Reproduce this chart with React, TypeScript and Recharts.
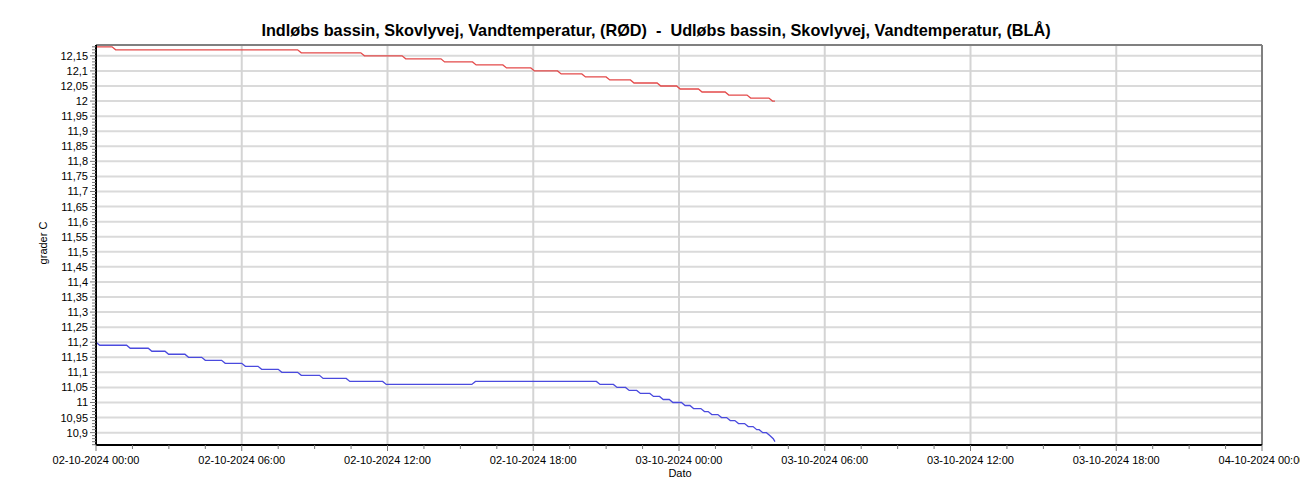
import React from 'react';
import { LineChart, Line, XAxis, YAxis, ReferenceLine } from 'recharts';

// Hours since 02-10-2024 00:00
const xMajorLabels = [
  '02-10-2024 00:00', '02-10-2024 06:00', '02-10-2024 12:00', '02-10-2024 18:00',
  '03-10-2024 00:00', '03-10-2024 06:00', '03-10-2024 12:00', '03-10-2024 18:00',
  '04-10-2024 00:00',
];
const xMajorHours = [0, 6, 12, 18, 24, 30, 36, 42, 48];
const yMajorTicks = [
  10.9, 10.95, 11, 11.05, 11.1, 11.15, 11.2, 11.25, 11.3, 11.35, 11.4, 11.45, 11.5,
  11.55, 11.6, 11.65, 11.7, 11.75, 11.8, 11.85, 11.9, 11.95, 12, 12.05, 12.1, 12.15,
];
const Y_MIN = 10.859;
const Y_MAX = 12.186;

// Red series (Indløbs bassin): levels and the hour each level ends
const redLevels = [12.18, 12.17, 12.16, 12.15, 12.14, 12.13, 12.12, 12.11, 12.1, 12.09, 12.08, 12.07, 12.06, 12.05, 12.04, 12.03, 12.02, 12.01, 12.0];
const redEnds = [0.66, 8.3, 10.9, 12.6, 14.2, 15.5, 16.75, 17.9, 19.0, 20.0, 21.0, 22.0, 23.1, 23.9, 24.8, 25.9, 26.8, 27.7, 27.95];

// Blue series (Udløbs bassin)
const blueLevels = [11.2, 11.19, 11.18, 11.17, 11.16, 11.15, 11.14, 11.13, 11.12, 11.11, 11.1, 11.09, 11.08, 11.07, 11.06, 11.07, 11.06, 11.05, 11.04, 11.03, 11.02, 11.01, 11.0, 10.99, 10.98, 10.97, 10.96, 10.95, 10.94, 10.93, 10.92, 10.91, 10.9, 10.89, 10.88, 10.87];
const blueEnds = [0.0, 1.26, 2.15, 2.84, 3.66, 4.35, 5.17, 6.0, 6.67, 7.5, 8.3, 9.2, 10.3, 11.8, 15.47, 20.6, 21.3, 21.8, 22.26, 22.8, 23.2, 23.6, 24.1, 24.45, 24.9, 25.2, 25.6, 25.96, 26.3, 26.7, 27.05, 27.3, 27.6, 27.75, 27.88, 27.95];

const STEP = 0.15;
function buildSteps(levels: number[], ends: number[]) {
  const pts: { t: number; v: number }[] = [];
  let start = 0;
  levels.forEach((v, i) => {
    const s = i === 0 ? 0 : Math.min(start + STEP, ends[i]);
    pts.push({ t: s, v });
    if (ends[i] > s) pts.push({ t: ends[i], v });
    start = ends[i];
  });
  return pts;
}
const redData = buildSteps(redLevels, redEnds);
const blueData = buildSteps(blueLevels, blueEnds);

const yMinorTicks: number[] = [];
for (let i = 0; i <= 132; i++) yMinorTicks.push(Math.round((10.86 + i * 0.01) * 100) / 100);
const xMinorTicks: number[] = [];
for (let i = 0; i <= 32; i++) xMinorTicks.push(i * 1.5);

const FONT = '"Liberation Sans", Arial, sans-serif';

const XTick = (props: any) => {
  const { x, y, payload } = props;
  const v = payload.value as number;
  const idx = xMajorHours.indexOf(v);
  const major = idx >= 0;
  return (
    <g>
      <line x1={x} y1={y} x2={x} y2={y + (major ? 6 : 4)} stroke="#777" strokeWidth={1} />
      {major && (
        <text x={x} y={y + 19} textAnchor="middle" fontSize={11} fontFamily={FONT} fill="#000">
          {xMajorLabels[idx]}
        </text>
      )}
    </g>
  );
};

const YTick = (props: any) => {
  const { x, y, payload } = props;
  const v = payload.value as number;
  const major = Math.round(v * 100) % 5 === 0;
  return (
    <g>
      <line x1={x - (major ? 6 : 4)} y1={y} x2={x} y2={y} stroke="#777" strokeWidth={1} />
      {major && (
        <text x={x - 8} y={y + 4} textAnchor="end" fontSize={11} fontFamily={FONT} fill="#000">
          {String(v).replace('.', ',')}
        </text>
      )}
    </g>
  );
};

export default function App() {
  return (
    <div style={{ position: 'absolute', left: 0, top: 0, width: 1300, height: 500, background: '#fff', fontFamily: FONT }}>
      <div
        style={{
          position: 'absolute', left: 0, width: 1300, top: 20, textAlign: 'center', paddingLeft: 6,
          fontSize: 16.25, fontWeight: 'bold', whiteSpace: 'pre', color: '#000', lineHeight: '20px',
        }}
      >
        {'Indløbs bassin, Skovlyvej, Vandtemperatur, (RØD)  -  Udløbs bassin, Skovlyvej, Vandtemperatur, (BLÅ)'}
      </div>
      <div
        style={{
          position: 'absolute', left: 43, top: 243, transform: 'translate(-50%, -50%) rotate(-90deg)',
          fontSize: 11, whiteSpace: 'pre', color: '#000',
        }}
      >
        grader C
      </div>
      <div
        style={{
          position: 'absolute', left: 680, top: 473, transform: 'translate(-50%, -50%)',
          fontSize: 11, color: '#000',
        }}
      >
        Dato
      </div>
      <div style={{ position: 'absolute', left: 0, top: 0 }}>
        <LineChart width={1300} height={500} margin={{ top: 45, right: 38, bottom: 0, left: 0 }}>
          {yMajorTicks.map((v) => (
            <ReferenceLine key={'h' + v} y={v} stroke="#dadada" strokeWidth={2} />
          ))}
          {xMajorHours.slice(1, -1).map((v) => (
            <ReferenceLine key={'v' + v} x={v} stroke="#d4d4d4" strokeWidth={2} />
          ))}
          <ReferenceLine y={Y_MAX} stroke="#808080" strokeWidth={2} />
          <ReferenceLine x={48} stroke="#808080" strokeWidth={2} />
          <XAxis
            type="number"
            dataKey="t"
            domain={[0, 48]}
            ticks={xMinorTicks}
            interval={0}
            allowDataOverflow
            tick={<XTick />}
            tickLine={false}
            tickSize={0}
            tickMargin={0}
            height={55}
            axisLine={{ stroke: '#000', strokeWidth: 2 }}
          />
          <YAxis
            type="number"
            domain={[Y_MIN, Y_MAX]}
            ticks={yMinorTicks}
            interval={0}
            allowDataOverflow
            tick={<YTick />}
            tickLine={false}
            tickSize={0}
            tickMargin={0}
            width={96}
            axisLine={{ stroke: '#000', strokeWidth: 2 }}
          />
          <Line data={redData} dataKey="v" type="linear" stroke="#e44a4a" strokeWidth={1.3} dot={false} isAnimationActive={false} />
          <Line data={blueData} dataKey="v" type="linear" stroke="#4a4ade" strokeWidth={1.3} dot={false} isAnimationActive={false} />
        </LineChart>
      </div>
    </div>
  );
}
